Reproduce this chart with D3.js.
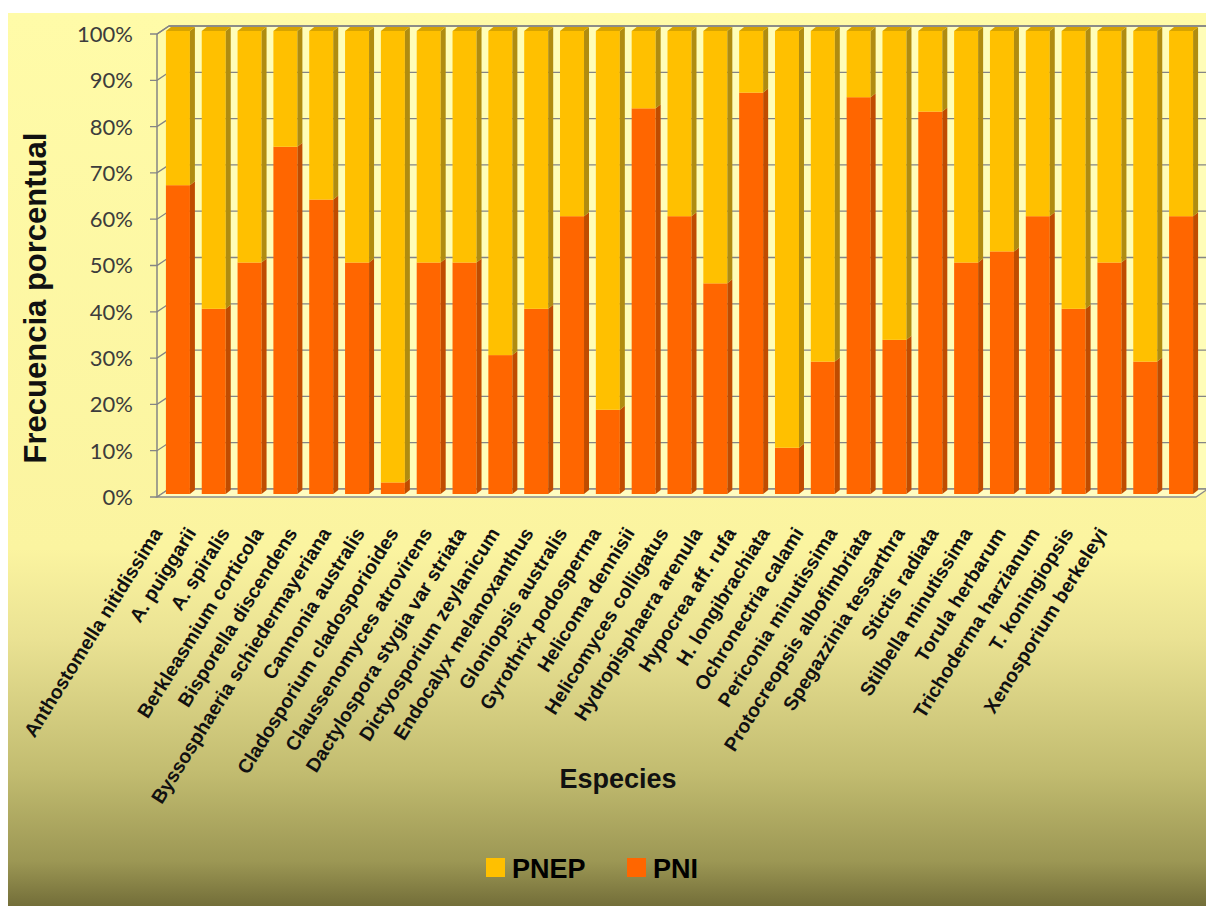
<!DOCTYPE html>
<html><head><meta charset="utf-8">
<script src="https://cdn.jsdelivr.net/npm/d3@7"></script>
<style>html,body{margin:0;padding:0;background:#fff;}svg{display:block;}</style>
</head><body>
<svg id="chart" width="1206" height="906"></svg>
<script>
const categories = ["Anthostomella nitidissima","A. puiggarii","A. spiralis","Berkleasmium corticola","Bisporella discendens","Byssosphaeria schiedermayeriana","Cannonia australis","Cladosporium cladosporioides","Claussenomyces atrovirens","Dactylospora stygia var striata","Dictyosporium zeylanicum","Endocalyx melanoxanthus","Gloniopsis australis","Gyrothrix podosperma","Helicoma dennisii","Helicomyces colligatus","Hydropisphaera arenula","Hypocrea aff. rufa","H. longibrachiata","Ochronectria calami","Periconia minutissima","Protocreopsis albofimbriata","Spegazzinia tessarthra","Stictis radiata","Stilbella minutissima","Torula herbarum","Trichoderma harzianum","T. koningiopsis","Xenosporium berkeleyi"];
const pni  = [66.7,40,50,75,63.6,50,2.5,50,50,30,40,60,18.2,83.3,60,45.5,86.7,10,28.6,85.7,33.3,82.6,50,52.4,60,40,50,28.6,60];
const pnep = [33.3,60,50,25,36.4,50,97.5,50,50,70,60,40,81.8,16.7,40,54.5,13.3,90,71.4,14.3,66.7,17.4,50,47.6,40,60,50,71.4,40];
const seriesNames = ["PNI","PNEP"];
const yTicks = [0,0.1,0.2,0.3,0.4,0.5,0.6,0.7,0.8,0.9,1];
const legendItems = ["PNEP","PNI"];

const colors = {
  PNI:  {front:"#FF6600", side:"#C04C00", top:"#E05800"},
  PNEP: {front:"#FFC000", side:"#B08C10", top:"#D8A400"}
};

const svg = d3.select("#chart");
const defs = svg.append("defs");
const bg = defs.append("linearGradient").attr("id","bg").attr("x1",0).attr("y1",0).attr("x2",0).attr("y2",1);
[[0,"#FFFBA8"],[0.6,"#FBF4A0"],[0.7,"#EAE293"],[0.85,"#C2BC70"],[0.95,"#9C9754"],[1,"#736E39"]]
  .forEach(([o,c])=>bg.append("stop").attr("offset",o).attr("stop-color",c));
svg.append("rect").attr("x",8).attr("y",13).attr("width",1198).attr("height",893).attr("fill","url(#bg)");

// geometry
const frontL = 157, frontR = 1196, yBase = 497, yTop = 34;
const ddx = 12, ddy = -8;   // wall depth
const bdx = 3, bdy = -3;    // bar front offset into depth
const sdx = 5, sdy = -4;    // bar depth
const x = d3.scaleBand().domain(categories).range([frontL, frontR]).paddingInner(0).paddingOuter(0);
const y = d3.scaleLinear().domain([0,1]).range([yBase, yTop]);
const bw = 24;

// walls
const wall = svg.append("g");
wall.append("polygon").attr("points",[[frontL+ddx,y(1)+ddy],[frontR+ddx,y(1)+ddy],[frontR+ddx,y(0)+ddy],[frontL+ddx,y(0)+ddy]].join(" "))
  .attr("fill","#FFFDB8");
wall.append("polygon").attr("points",[[frontL,y(1)],[frontL+ddx,y(1)+ddy],[frontL+ddx,y(0)+ddy],[frontL,y(0)]].join(" "))
  .attr("fill","#FFFBA8");
wall.selectAll("line.grid").data(yTicks).join("line").attr("class","grid")
  .attr("x1",frontL+ddx).attr("x2",frontR+ddx).attr("y1",d=>y(d)+ddy).attr("y2",d=>y(d)+ddy)
  .attr("stroke","#858585").attr("stroke-width",1.3);
wall.selectAll("path.tk").data(yTicks).join("path").attr("class","tk")
  .attr("d",d=>`M${frontL-7},${y(d)} L${frontL},${y(d)} L${frontL+ddx},${y(d)+ddy}`)
  .attr("fill","none").attr("stroke","#858585").attr("stroke-width",1.3);
wall.append("polygon").attr("points",[[frontL,y(0)],[frontR,y(0)],[frontR+ddx,y(0)+ddy],[frontL+ddx,y(0)+ddy]].join(" "))
  .attr("fill","#FFFCC0").attr("stroke","#8A8A8A").attr("stroke-width",1.3);
wall.append("line").attr("x1",frontL).attr("x2",frontL).attr("y1",y(1)).attr("y2",y(0)).attr("stroke","#858585").attr("stroke-width",1.5);

// stacked data
const rows = categories.map((c,i)=>({cat:c, PNI:pni[i], PNEP:pnep[i]}));
const stack = d3.stack().keys(seriesNames).offset(d3.stackOffsetExpand);
const layers = stack(rows);

const bars = svg.append("g");
categories.forEach((c,i)=>{
  const g = bars.append("g");
  const x0 = x(c) + x.bandwidth()/2 - bw/2 + bdx;
  layers.forEach(layer=>{
    const seg = layer[i];
    const col = colors[layer.key];
    const yt = y(seg[1]) + bdy, yb = y(seg[0]) + bdy;
    if (yb - yt <= 0) return;
    g.append("rect").attr("x",x0).attr("y",yt).attr("width",bw).attr("height",yb-yt).attr("fill",col.front);
    g.append("polygon").attr("points",[[x0+bw,yt],[x0+bw+sdx,yt+sdy],[x0+bw+sdx,yb+sdy],[x0+bw,yb]].join(" "))
      .attr("fill",col.side);
    if (seg[1] >= 0.999) {
      g.append("polygon").attr("points",[[x0,yt],[x0+bw,yt],[x0+bw+sdx,yt+sdy],[x0+sdx,yt+sdy]].join(" "))
        .attr("fill",col.top);
    }
  });
});

svg.append("path").attr("d",`M${frontL},${y(1)} L${frontL+ddx},${y(1)+ddy} L${frontR+ddx},${y(1)+ddy}`)
  .attr("fill","none").attr("stroke","#858585").attr("stroke-width",1.3);

// y tick labels
svg.append("g").selectAll("text").data(yTicks).join("text")
  .attr("x",133).attr("y",d=>y(d)).attr("dy","0.36em").attr("text-anchor","end")
  .attr("font-family","Lato, 'Open Sans', sans-serif").attr("font-size",22).attr("fill","#3C3C3C")
  .text(d3.format(".0%"));

// category labels
const lx = d3.scalePoint().domain(categories).range([163,1108]);
svg.append("g").selectAll("text").data(categories).join("text")
  .attr("transform",d=>`translate(${lx(d)},533) rotate(-58)`)
  .attr("text-anchor","end")
  .attr("font-family","'Liberation Sans', Arial, sans-serif").attr("font-weight","bold").attr("font-size",19.5)
  .attr("fill","#111").text(d=>d);

// axis titles
svg.append("text").attr("transform","translate(46,298) rotate(-90)").attr("text-anchor","middle")
  .attr("font-family","'Liberation Sans', Arial, sans-serif").attr("font-weight","bold").attr("font-size",31)
  .attr("fill","#111").text("Frecuencia porcentual");
svg.append("text").attr("x",618).attr("y",788).attr("text-anchor","middle")
  .attr("font-family","'Liberation Sans', Arial, sans-serif").attr("font-weight","bold").attr("font-size",27)
  .attr("fill","#111").text("Especies");

// legend
const legX = d3.scalePoint().domain(legendItems).range([486,627]);
const leg = svg.append("g").selectAll("g").data(legendItems).join("g")
  .attr("transform",d=>`translate(${legX(d)},858)`);
leg.append("rect").attr("width",19).attr("height",19).attr("fill",d=>colors[d].front);
leg.append("text").attr("x",26).attr("y",19.5)
  .attr("font-family","'Liberation Sans', Arial, sans-serif").attr("font-weight","bold").attr("font-size",27)
  .attr("fill","#000").text(d=>d);
</script>
</body></html>
